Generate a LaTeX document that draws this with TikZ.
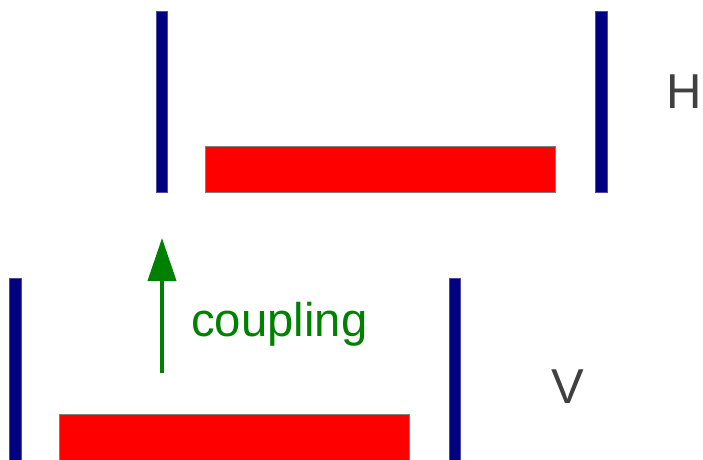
\documentclass[tikz,border=0pt]{standalone}
\usepackage{fontspec}
\setmainfont{Liberation Sans}
\usetikzlibrary{arrows.meta}
\definecolor{barblue}{RGB}{0,0,128}
\definecolor{mirrorred}{RGB}{255,0,0}
\definecolor{cpgreen}{RGB}{0,128,0}
\definecolor{labelgray}{RGB}{64,64,64}
\begin{document}
\begin{tikzpicture}[x=1pt,y=-1pt,
  mirror/.style={fill=barblue,draw=barblue!70!white,line width=0.6pt},
  slab/.style={fill=mirrorred,draw=gray,line width=0.8pt},
  lbl/.style={text=labelgray,inner sep=0pt,font=\fontsize{49}{58}\selectfont},
  cpl/.style={text=cpgreen,inner sep=0pt,font=\fontsize{47.3}{56}\selectfont},
  cparrow/.style={draw=cpgreen,line width=4pt,-{Triangle[width=28pt,length=43pt]}}]
\useasboundingbox (0,0) rectangle (703,459);
% top resonator (H)
\fill[mirror] (156.3,11) rectangle (167.7,192);
\fill[slab] (205.3,146.7) rectangle (555.7,192);
\fill[mirror] (595.3,11) rectangle (607,192);
\node[lbl] (H) at (684.5,91.5) {H};
% bottom resonator (V)
\fill[mirror] (9.7,278.7) rectangle (21.3,462);
\fill[slab] (59,414.3) rectangle (409.3,462);
\fill[mirror] (449,278.3) rectangle (460.7,462);
\node[lbl] (V) at (568.3,386.2) {V};
% coupling arrow
\coordinate (cpfrom) at (162,373);
\coordinate (cpto) at (162,238);
\draw[cparrow] (cpfrom) -- (cpto);
\node[cpl,anchor=base west] (coupling) at (191,336.7) {coupling};
\end{tikzpicture}
\end{document}
